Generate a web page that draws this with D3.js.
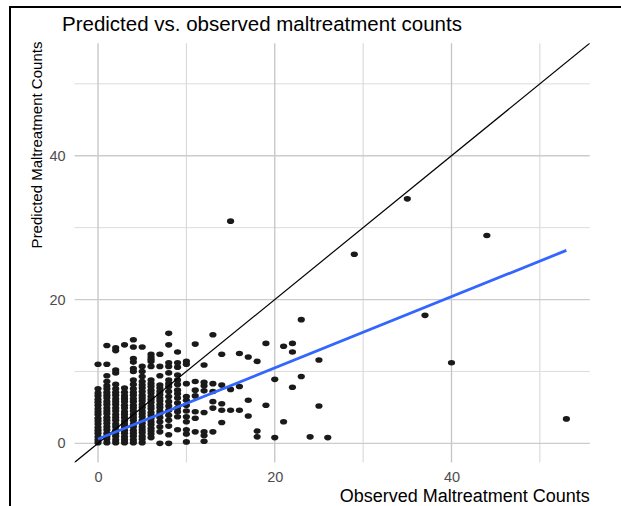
<!DOCTYPE html>
<html>
<head>
<meta charset="utf-8">
<script src="https://cdn.jsdelivr.net/npm/d3@7"></script>
<style>
  body { margin: 0; background: #fff; }
  text { font-family: "Liberation Sans", Arial, sans-serif; }
</style>
</head>
<body>
<div id="chart"></div>
<script>
// observed count -> predicted counts
var observed = [0, 1, 2, 3, 4, 5, 6, 7, 8, 9, 10, 11, 12, 13, 14, 15, 16, 17, 18, 19, 20,
    21, 22, 23, 24, 25, 26, 29, 35, 37, 40, 44, 53];
var predicted = [
    [0.1, 0.5, 0.9, 1.4, 1.8, 2.2, 2.7, 3.1, 3.5, 4.0, 4.4, 4.8, 5.3, 5.7, 6.1, 6.6, 7.0, 7.6, 11.0],
    [0.1, 0.6, 1.0, 1.4, 1.9, 2.3, 2.8, 3.2, 3.6, 4.1, 4.5, 4.9, 5.4, 5.8, 6.3, 6.7, 7.1, 7.6, 8.0, 8.6, 9.4, 11.0, 13.6],
    [0.1, 0.5, 1.0, 1.4, 1.8, 2.3, 2.7, 3.2, 3.6, 4.0, 4.5, 4.9, 5.4, 5.8, 6.2, 6.7, 7.1, 7.6, 8.2, 9.8, 10.2, 12.9, 13.3],
    [0.1, 0.5, 0.9, 1.4, 1.8, 2.3, 2.7, 3.1, 3.6, 4.0, 4.4, 4.9, 5.3, 5.8, 6.2, 6.6, 7.1, 7.7, 13.7],
    [0.1, 0.5, 1.0, 1.4, 1.8, 2.3, 2.7, 3.2, 3.6, 4.0, 4.5, 4.9, 5.3, 5.8, 6.2, 6.7, 7.1, 7.6, 8.2, 8.8, 10.0, 10.4, 11.3, 11.8, 13.4, 14.4],
    [0.1, 0.6, 1.0, 1.5, 1.9, 2.3, 2.8, 3.2, 3.7, 4.1, 4.5, 5.0, 5.4, 5.9, 6.3, 6.7, 7.2, 7.7, 8.1, 8.6, 9.3, 10.0, 10.7, 13.4],
    [0.8, 1.3, 1.7, 2.1, 2.6, 3.0, 3.5, 3.9, 4.3, 4.8, 5.2, 5.7, 6.1, 6.5, 7.0, 7.4, 7.9, 8.3, 8.8, 10.7, 11.4, 11.7, 12.0, 12.4],
    [0.0, 1.6, 2.3, 3.0, 3.6, 4.1, 4.5, 5.0, 5.4, 5.9, 6.3, 6.8, 7.2, 7.7, 8.1, 9.4, 10.7, 12.4],
    [0.0, 1.2, 2.4, 3.2, 3.9, 4.6, 5.2, 5.8, 6.5, 7.2, 7.9, 8.3, 8.8, 9.8, 10.7, 11.2, 13.7, 15.3],
    [1.9, 3.7, 4.4, 4.9, 5.6, 6.3, 6.9, 7.4, 8.2, 8.8, 9.5, 10.6, 11.2, 12.7],
    [0.2, 1.3, 1.9, 3.0, 3.7, 4.5, 5.3, 6.0, 6.5, 8.3, 11.0, 11.4],
    [1.6, 3.5, 4.4, 6.6, 7.4, 8.6, 13.8],
    [0.3, 1.1, 1.6, 4.3, 7.3, 8.0, 8.5, 10.9],
    [1.6, 4.9, 5.8, 7.2, 8.3, 15.1],
    [2.9, 4.6, 5.5, 8.1, 12.4],
    [4.6, 7.5, 30.9],
    [4.6, 7.9, 12.5],
    [3.8, 6.0, 12.0],
    [0.9, 1.7, 11.4],
    [5.3, 13.9],
    [0.8, 8.9],
    [3.0, 13.5],
    [7.8, 12.7, 13.9],
    [9.3, 17.2],
    [0.9],
    [5.2, 11.6],
    [0.8],
    [26.3],
    [34.0],
    [17.8],
    [11.2],
    [28.9],
    [3.4]
];

var majorTicks = [0, 20, 40];
var minorTicks = [10, 30, 50];

// linear fit (geom_smooth lm)
var fitIntercept = 0.6;
var fitSlope = 0.495;
var fitRange = [0, 53];

var width = 621, height = 506;

var svg = d3.select("#chart")
    .append("svg")
    .attr("width", width)
    .attr("height", height);

// frame
svg.append("line")
    .attr("x1", 9).attr("x2", width)
    .attr("y1", 7).attr("y2", 7)
    .attr("stroke", "#000").attr("stroke-width", 2);
svg.append("line")
    .attr("x1", 10).attr("x2", 10)
    .attr("y1", 6).attr("y2", height)
    .attr("stroke", "#000").attr("stroke-width", 2);

var x = d3.scaleLinear()
    .domain([-2.65, 55.65])
    .range([74.6, 589.8]);

var y = d3.scaleLinear()
    .domain([-2.65, 55.65])
    .range([462.4, 43.2]);

var panelLeft = x.range()[0], panelRight = x.range()[1];
var panelTop = y.range()[1], panelBottom = y.range()[0];

// grid
var grid = svg.append("g");
grid.selectAll(".vminor")
    .data(minorTicks)
    .enter().append("line")
    .attr("x1", function (d) { return x(d); })
    .attr("x2", function (d) { return x(d); })
    .attr("y1", panelTop).attr("y2", panelBottom)
    .attr("stroke", "#d4d4d4").attr("stroke-width", 1);
grid.selectAll(".hminor")
    .data(minorTicks)
    .enter().append("line")
    .attr("y1", function (d) { return y(d); })
    .attr("y2", function (d) { return y(d); })
    .attr("x1", panelLeft).attr("x2", panelRight)
    .attr("stroke", "#dcdcdc").attr("stroke-width", 1);
grid.selectAll(".vmajor")
    .data(majorTicks)
    .enter().append("line")
    .attr("x1", function (d) { return x(d); })
    .attr("x2", function (d) { return x(d); })
    .attr("y1", panelTop).attr("y2", panelBottom)
    .attr("stroke", "#c4c4c4").attr("stroke-width", 1.3);
grid.selectAll(".hmajor")
    .data(majorTicks)
    .enter().append("line")
    .attr("y1", function (d) { return y(d); })
    .attr("y2", function (d) { return y(d); })
    .attr("x1", panelLeft).attr("x2", panelRight)
    .attr("stroke", "#cccccc").attr("stroke-width", 1.3);

// axes (labels only)
var xAxis = svg.append("g")
    .attr("transform", "translate(0," + (panelBottom + 3) + ")")
    .call(d3.axisBottom(x).tickValues(majorTicks).tickSize(0).tickPadding(6));
var yAxis = svg.append("g")
    .attr("transform", "translate(" + (panelLeft - 3) + ",0)")
    .call(d3.axisLeft(y).tickValues(majorTicks).tickSize(0).tickPadding(6));
[xAxis, yAxis].forEach(function (a) {
    a.select(".domain").remove();
    a.selectAll("text")
        .attr("fill", "#4d4d4d")
        .style("font-size", "14.5px")
        .style("font-family", "'Liberation Sans', Arial, sans-serif");
});

// points
var points = [];
observed.forEach(function (o, i) {
    predicted[i].forEach(function (p) {
        points.push({ obs: o, pred: p });
    });
});

svg.append("g")
    .selectAll("ellipse")
    .data(points)
    .enter().append("ellipse")
    .attr("cx", function (d) { return x(d.obs); })
    .attr("cy", function (d) { return y(d.pred); })
    .attr("rx", 3.6)
    .attr("ry", 2.8)
    .attr("fill", "#1a1a1a");

// clip for reference line
svg.append("clipPath").attr("id", "panel")
    .append("rect")
    .attr("x", panelLeft).attr("y", panelTop)
    .attr("width", panelRight - panelLeft).attr("height", panelBottom - panelTop);

// y = x line
svg.append("line")
    .attr("clip-path", "url(#panel)")
    .attr("x1", x(-10)).attr("y1", y(-10))
    .attr("x2", x(70)).attr("y2", y(70))
    .attr("stroke", "#000")
    .attr("stroke-width", 1.2);

// fitted line
svg.append("line")
    .attr("x1", x(fitRange[0]))
    .attr("y1", y(fitIntercept + fitSlope * fitRange[0]))
    .attr("x2", x(fitRange[1]))
    .attr("y2", y(fitIntercept + fitSlope * fitRange[1]))
    .attr("stroke", "#3366FF")
    .attr("stroke-width", 2.8);

// titles
svg.append("text")
    .attr("x", 262)
    .attr("y", 31)
    .attr("text-anchor", "middle")
    .style("font-size", "20.5px")
    .attr("fill", "#000")
    .text("Predicted vs. observed maltreatment counts");

svg.append("text")
    .attr("x", panelRight)
    .attr("y", 502)
    .attr("text-anchor", "end")
    .style("font-size", "18px")
    .attr("fill", "#000")
    .text("Observed Maltreatment Counts");

svg.append("text")
    .attr("transform", "translate(42,145) rotate(-90)")
    .attr("text-anchor", "middle")
    .style("font-size", "15px")
    .attr("fill", "#000")
    .text("Predicted Maltreatment Counts");
</script>
</body>
</html>
